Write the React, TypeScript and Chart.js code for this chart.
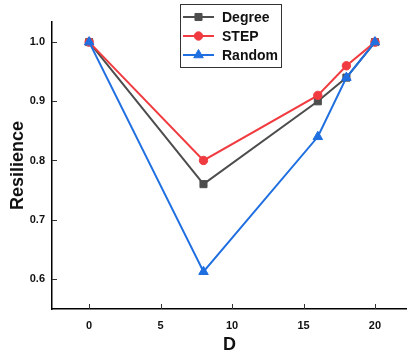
import React, { useEffect, useRef } from "react";
import { Chart, registerables } from "chart.js";

Chart.register(...registerables);

const xValues = [0, 8, 16, 18, 20];
const degreeValues = [1.0, 0.76, 0.9, 0.94, 1.0];
const stepValues = [1.0, 0.8, 0.91, 0.96, 1.0];
const randomValues = [1.0, 0.612, 0.84, 0.94, 1.0];
const xTicks = [0, 5, 10, 15, 20];
const yTicks = [0.6, 0.7, 0.8, 0.9, 1.0];
const seriesNames = ["Degree", "STEP", "Random"];

const COLORS = ["#4d4d4d", "#f03c41", "#1f6fe0"];
const STYLES = ["rect", "circle", "triangle"];
const RADII = [5, 4.2, 5.5];
const FONT = "'Liberation Sans', Arial, sans-serif";

function drawMarker(ctx: CanvasRenderingContext2D, style: string, r: number, x: number, y: number) {
  ctx.beginPath();
  if (style === "rect") {
    const s = r * Math.SQRT1_2;
    ctx.rect(x - s, y - s, 2 * s, 2 * s);
  } else if (style === "circle") {
    ctx.arc(x, y, r, 0, Math.PI * 2);
  } else {
    const a = (Math.PI * 2) / 3;
    ctx.moveTo(x, y - r);
    ctx.lineTo(x + Math.sin(a) * r, y - Math.cos(a) * r);
    ctx.lineTo(x - Math.sin(a) * r, y - Math.cos(a) * r);
    ctx.closePath();
  }
  ctx.fill();
  ctx.stroke();
}

const inwardTicks = {
  id: "inwardTicks",
  afterDraw(chart: any) {
    const { ctx, chartArea, scales } = chart;
    ctx.save();
    ctx.strokeStyle = "#333";
    ctx.lineWidth = 1;
    scales.x.ticks.forEach((t: any) => {
      const px = Math.round(scales.x.getPixelForValue(t.value)) + 0.5;
      ctx.beginPath();
      ctx.moveTo(px, chartArea.bottom);
      ctx.lineTo(px, chartArea.bottom - 5);
      ctx.stroke();
    });
    scales.y.ticks.forEach((t: any) => {
      const py = Math.round(scales.y.getPixelForValue(t.value)) + 0.5;
      ctx.beginPath();
      ctx.moveTo(chartArea.left, py);
      ctx.lineTo(chartArea.left + 5, py);
      ctx.stroke();
    });
    ctx.restore();
  },
};

const boxLegend = {
  id: "boxLegend",
  afterDraw(chart: any) {
    const { ctx } = chart;
    const x0 = 180.5;
    const y0 = 4.5;
    const w = 101;
    const h = 63;
    ctx.save();
    ctx.fillStyle = "#fff";
    ctx.fillRect(x0, y0, w, h);
    ctx.strokeStyle = "#333";
    ctx.lineWidth = 1;
    ctx.strokeRect(x0, y0, w, h);
    const rows = [17, 36, 55];
    seriesNames.forEach((name, i) => {
      const y = rows[i];
      ctx.strokeStyle = COLORS[i];
      ctx.lineWidth = 2;
      ctx.beginPath();
      ctx.moveTo(183, y);
      ctx.lineTo(214, y);
      ctx.stroke();
      ctx.fillStyle = COLORS[i];
      ctx.strokeStyle = COLORS[i];
      ctx.lineWidth = 1;
      drawMarker(ctx, STYLES[i], RADII[i], 198.5, y);
      ctx.fillStyle = "#111";
      ctx.font = `bold 14px ${FONT}`;
      ctx.textAlign = "left";
      ctx.textBaseline = "middle";
      ctx.fillText(name, 222, y + 1);
    });
    ctx.restore();
  },
};

export default function App() {
  const ref = useRef<HTMLCanvasElement>(null);
  useEffect(() => {
    document.body.style.margin = "0";
    const series = [degreeValues, stepValues, randomValues];
    const chart = new Chart(ref.current!, {
      type: "line",
      data: {
        datasets: series.map((vals, i) => ({
          label: seriesNames[i],
          data: xValues.map((x, j) => ({ x, y: vals[j] })),
          borderColor: COLORS[i],
          backgroundColor: COLORS[i],
          borderWidth: 2,
          pointStyle: STYLES[i] as any,
          pointRadius: RADII[i],
          pointBorderWidth: 1,
          tension: 0,
          order: 2 - i,
        })),
      },
      options: {
        responsive: false,
        devicePixelRatio: 1,
        animation: false,
        layout: { autoPadding: false, padding: { top: 22, left: 0, right: 0, bottom: 0 } },
        plugins: { legend: { display: false }, tooltip: { enabled: false } },
        scales: {
          x: {
            type: "linear",
            min: -2.6,
            max: 22.24,
            afterBuildTicks: (s: any) => {
              s.ticks = xTicks.map((v) => ({ value: v }));
            },
            afterFit: (s: any) => {
              s.height = 49;
            },
            grid: { drawOnChartArea: false, drawTicks: false },
            border: { display: true, color: "#000", width: 1.5 },
            ticks: {
              padding: 10,
              color: "#111",
              font: { family: FONT, size: 11, weight: "bold" },
            },
            title: {
              display: true,
              text: "D",
              color: "#111",
              padding: { top: 0, bottom: 2 },
              font: { family: FONT, size: 18, weight: "bold" },
            },
          },
          y: {
            min: 0.549,
            max: 1.034,
            afterBuildTicks: (s: any) => {
              s.ticks = yTicks.map((v) => ({ value: v }));
            },
            afterFit: (s: any) => {
              s.width = 52;
            },
            grid: { drawOnChartArea: false, drawTicks: false },
            border: { display: true, color: "#000", width: 1.5 },
            ticks: {
              padding: 7,
              color: "#111",
              font: { family: FONT, size: 11, weight: "bold" },
              callback: (v: any) => Number(v).toFixed(1),
            },
            title: {
              display: true,
              text: "Resilience",
              color: "#111",
              padding: { top: 7, bottom: 0 },
              font: { family: FONT, size: 18, weight: "bold" },
            },
          },
        },
      },
      plugins: [inwardTicks, boxLegend],
    });
    return () => chart.destroy();
  }, []);
  return (
    <div style={{ position: "absolute", left: 0, top: 0, width: 407, height: 358, background: "#fff" }}>
      <canvas ref={ref} width={407} height={358} />
    </div>
  );
}
